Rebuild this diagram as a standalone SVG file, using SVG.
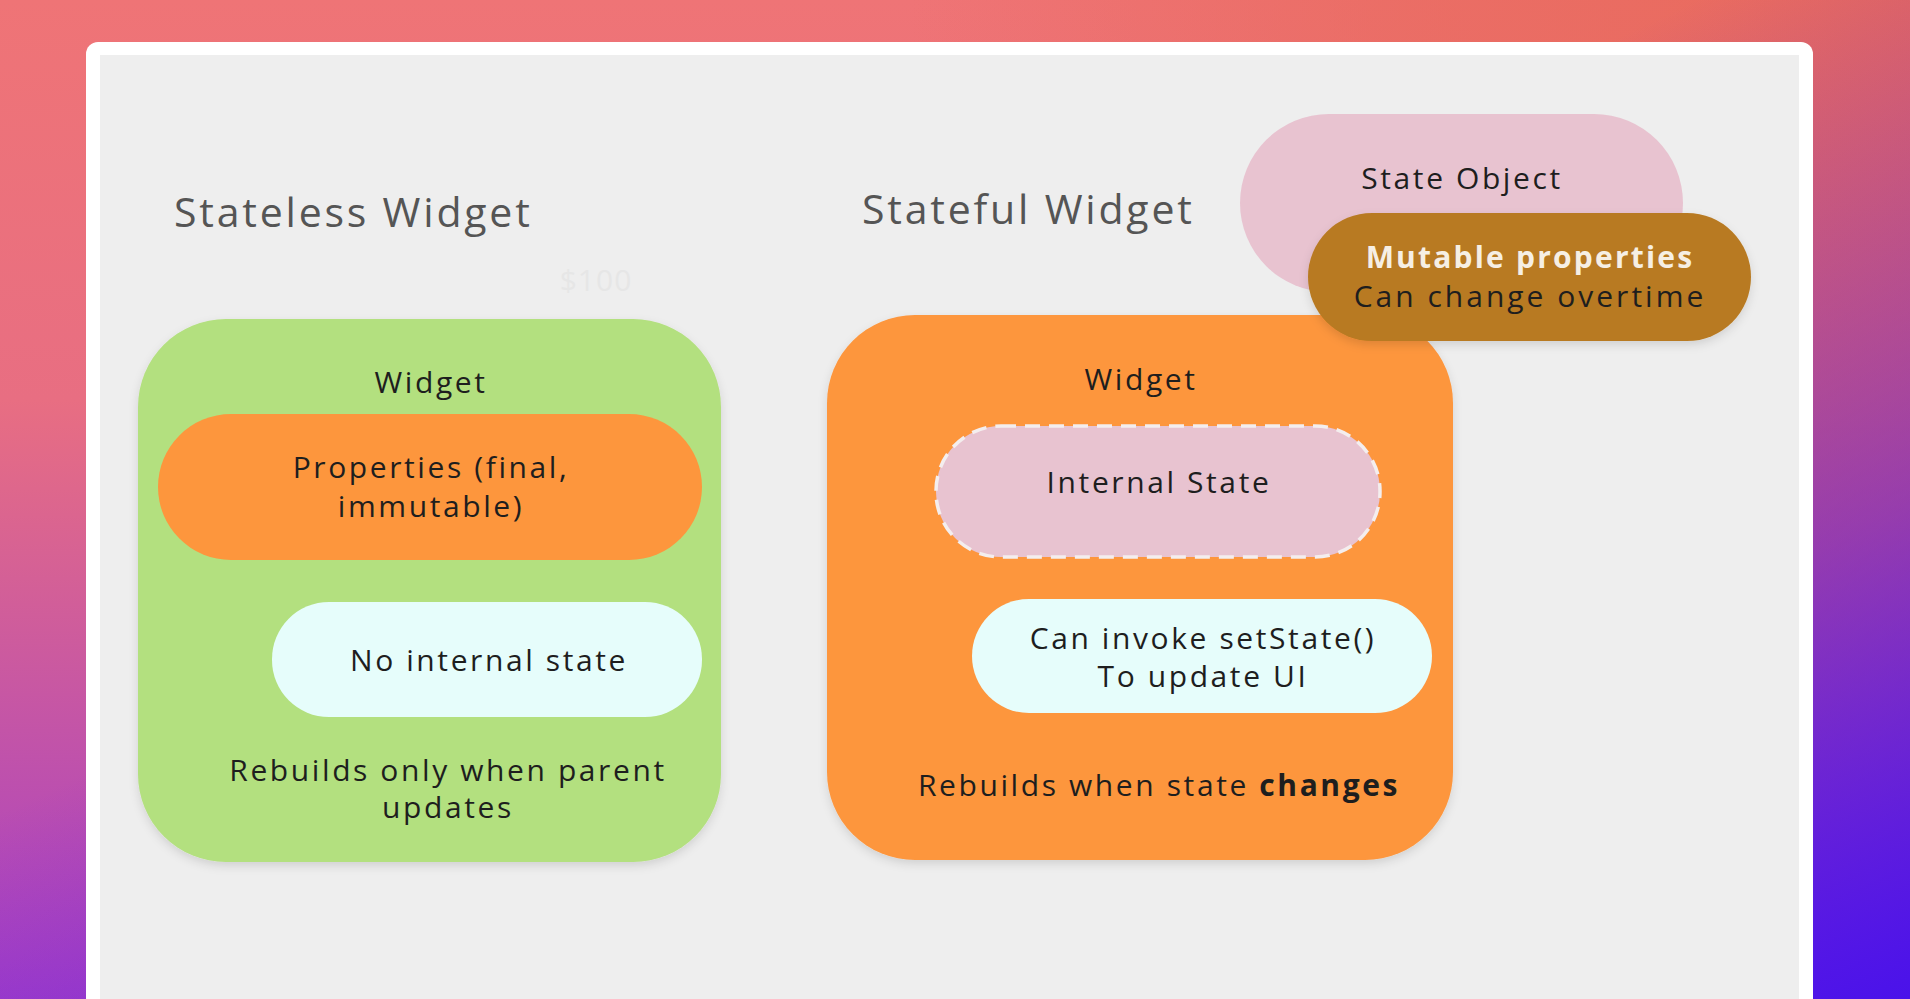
<svg xmlns="http://www.w3.org/2000/svg" width="1910" height="999" viewBox="0 0 1910 999">
<defs>
<linearGradient id="bgV" x1="0" y1="0" x2="0" y2="1">
<stop offset="0" stop-color="#ef7476"/>
<stop offset="0.4" stop-color="#e86e82"/>
<stop offset="1" stop-color="#a53fc6"/>
</linearGradient>
<linearGradient id="bgD" x1="0.45" y1="0.4" x2="1" y2="1">
<stop offset="0" stop-color="#4a12ea" stop-opacity="0"/>
<stop offset="0.55" stop-color="#4a12ea" stop-opacity="0.5"/>
<stop offset="1" stop-color="#4a12ea" stop-opacity="1"/>
</linearGradient>
<radialGradient id="bgT" gradientUnits="userSpaceOnUse" cx="1910" cy="0" r="1000">
<stop offset="0" stop-color="#e8695a" stop-opacity="0.9"/>
<stop offset="0.5" stop-color="#e8695a" stop-opacity="0.6"/>
<stop offset="1" stop-color="#e8695a" stop-opacity="0"/>
</radialGradient>
<filter id="sh" x="-10%" y="-10%" width="120%" height="130%">
<feDropShadow dx="0" dy="4" stdDeviation="5" flood-color="#000" flood-opacity="0.12"/>
</filter>
<style>
text{font-family:"Open Sans","Liberation Sans",sans-serif;text-anchor:middle;fill:#1e1e1e;letter-spacing:2.6px}
.title{font-size:41px;fill:#555;text-anchor:start;letter-spacing:2.8px}
.lbl{font-size:30px}
.big{filter:url(#sh)}
</style>
</defs>
<rect x="0" y="0" width="1910" height="999" fill="url(#bgV)"/>
<rect x="0" y="0" width="1910" height="999" fill="url(#bgT)"/>
<rect x="0" y="0" width="1910" height="999" fill="url(#bgD)"/>
<rect x="86" y="42" width="1727" height="1000" rx="12" fill="#ffffff"/>
<rect x="100" y="55" width="1699" height="960" fill="#eeeeee"/>

<text class="title" x="174" y="227">Stateless Widget</text>
<text class="title" x="862" y="224">Stateful Widget</text>
<text x="596" y="291" style="font-size:30px;fill:#e6e6e6;letter-spacing:1px">$100</text>

<g id="stateless">
<rect class="big" x="138" y="319" width="583" height="543" rx="88" fill="#b3e07f"/>
<text class="lbl" x="431" y="393">Widget</text>
</g>
<g id="properties">
<rect x="158" y="414" width="544" height="146" rx="73" fill="#fd963d"/>
<text class="lbl" x="431" y="478">Properties (final,</text>
<text class="lbl" x="431" y="517">immutable)</text>
</g>
<g id="no-internal-state">
<rect x="272" y="602" width="430" height="115" rx="57" fill="#e6fdfb"/>
<text class="lbl" x="489" y="671">No internal state</text>
</g>
<g id="stateless-rebuild">
<text class="lbl" x="448" y="781">Rebuilds only when parent</text>
<text class="lbl" x="448" y="818">updates</text>
</g>

<g id="state-object">
<rect x="1240" y="114" width="443" height="178" rx="89" fill="#e8c3d0"/>
<text class="lbl" x="1462" y="189">State Object</text>
</g>

<g id="stateful">
<rect class="big" x="827" y="315" width="626" height="545" rx="88" fill="#fd963d"/>
<text class="lbl" x="1141" y="390">Widget</text>
</g>
<g id="mutable">
<rect class="big" x="1308" y="213" width="443" height="128" rx="64" fill="#b87a22"/>
<text class="lbl" x="1530" y="268" style="font-weight:bold;fill:#f6efe4;letter-spacing:2.2px">Mutable properties</text>
<text class="lbl" x="1530" y="307" style="letter-spacing:3px">Can change overtime</text>
</g>
<g id="internal-state">
<rect x="936" y="426" width="444" height="131" rx="65" fill="#e8c3d0" stroke="#f4eeee" stroke-width="3.5" stroke-dasharray="15 9"/>
<text class="lbl" x="1159" y="493">Internal State</text>
</g>
<g id="setstate">
<rect x="972" y="599" width="460" height="114" rx="57" fill="#e6fdfb"/>
<text class="lbl" x="1203" y="649">Can invoke setState()</text>
<text class="lbl" x="1203" y="687">To update UI</text>
</g>
<g id="stateful-rebuild">
<text class="lbl" x="1159" y="796">Rebuilds when state <tspan style="font-weight:bold">changes</tspan></text>
</g>
<g id="connectors"></g>
</svg>
